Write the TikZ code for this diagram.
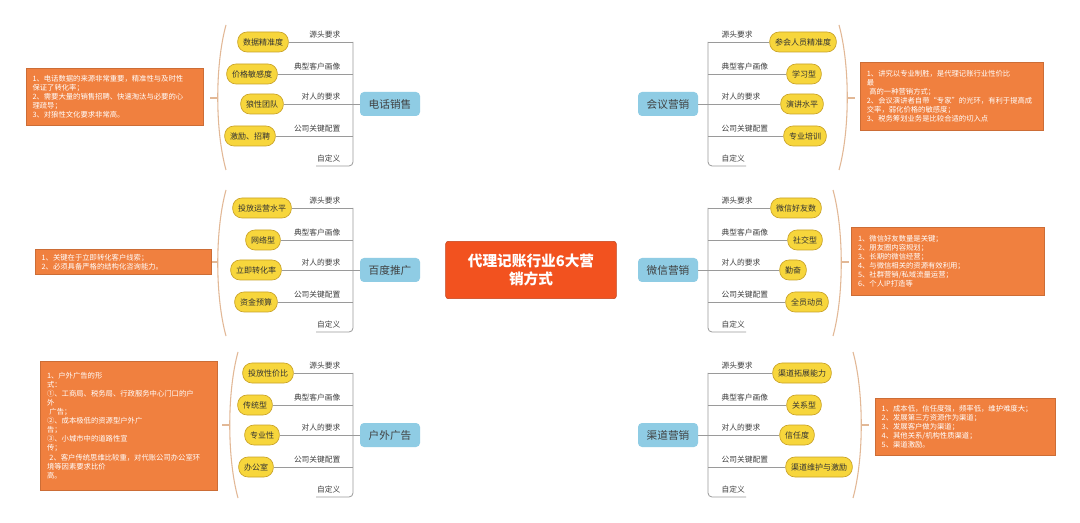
\documentclass[tikz,border=0pt]{standalone}
\usepackage{fontspec}
\setmainfont{Noto Sans CJK SC}
\usetikzlibrary{backgrounds}
\definecolor{cred}{HTML}{F2521F}
\definecolor{cblue}{HTML}{8FCCE4}
\definecolor{cyel}{HTML}{F7D63C}
\definecolor{cyelb}{HTML}{C9A227}
\definecolor{corg}{HTML}{F0803F}
\definecolor{cln}{HTML}{9A9A9A}
\definecolor{cbrc}{HTML}{E2B896}
\tikzset{
 ln/.style={draw=cln,line width=0.6pt},
 ctr/.style={fill=cred,draw=cred!80!black,rounded corners=2pt,text=white,font=\fontsize{11}{14}\selectfont\bfseries,minimum width=128pt,minimum height=43pt,align=center},
 bnode/.style={fill=cblue,rounded corners=3pt,text=black!75,font=\fontsize{8}{10}\selectfont,minimum width=45pt,minimum height=18pt},
 ynode/.style={fill=cyel,draw=cyelb,line width=0.5pt,rounded corners=7pt,font=\fontsize{6}{7}\selectfont,minimum height=15pt,inner xsep=4pt,text=black!80},
 lbl/.style={font=\fontsize{5.8}{7}\selectfont,text=black!75,inner sep=1pt},
 obox/.style={fill=corg,draw=corg!85!black,line width=0.4pt,text=white,font=\fontsize{5.5}{6.8}\selectfont,align=left,inner xsep=5pt,inner ysep=3pt},
 brc/.style={draw=cbrc,line width=0.8pt}
}
\newcommand\LB[4]{%
 \node[bnode] (#1) at (390,#2) {#3};
 \draw[ln] (#1.west) -- (353,#2);
 \foreach \dy/\yx/\yt [count=\i] in {#4}{
   \node[ynode] (#1y\i) at (\yx,{#2+\dy}) {\yt};
   \draw[ln] (#1y\i.east) -- (353,{#2+\dy});
 }
 \draw[ln,rounded corners=3pt] (353,{#2-62}) -- (353,{#2+62}) -- (316,{#2+62});
 \foreach \dy/\lt [count=\i] in {-62/源头要求,-30/典型客户画像,0/对人的要求,32/公司关键配置,62/自定义}{
   \node[lbl,anchor=south east] (#1l\i) at (342,{#2+\dy-2}) {\lt};
 }
}
\newcommand\RB[4]{%
 \node[bnode] (#1) at (668,#2) {#3};
 \draw[ln] (#1.east) -- (708,#2);
 \foreach \dy/\yx/\yt [count=\i] in {#4}{
   \node[ynode] (#1y\i) at (\yx,{#2+\dy}) {\yt};
   \draw[ln] (#1y\i.west) -- (708,{#2+\dy});
 }
 \draw[ln,rounded corners=3pt] (708,{#2-62}) -- (708,{#2+62}) -- (746,{#2+62});
 \foreach \dy/\lt [count=\i] in {-62/源头要求,-30/典型客户画像,0/对人的要求,32/公司关键配置,62/自定义}{
   \node[lbl,anchor=south west] (#1l\i) at (720,{#2+\dy-2}) {\lt};
 }
}
\newcommand\LBR[4]{%
 \draw[brc] ({#1+7},#2) .. controls ({#1-4},{#2+40}) and ({#1-4},{#3-40}) .. ({#1+7},#3);
 \draw[brc] ({#1-1},#4) -- ({#1-9},#4);
}
\newcommand\RBR[4]{%
 \draw[brc] ({#1-7},#2) .. controls ({#1+4},{#2+40}) and ({#1+4},{#3-40}) .. ({#1-7},#3);
 \draw[brc] ({#1+1},#4) -- ({#1+9},#4);
}
\begin{document}
\begin{tikzpicture}[x=0.75pt,y=-0.75pt]
\useasboundingbox (0,0) rectangle (1080,523);
\fill[white] (0,0) rectangle (1080,523);
\node[ctr] (c) at (531,270) {代理记账行业6大营\\销方式};

\LB{tel}{104}{电话销售}{-62/263/数据精准度,-30/252/价格敏感度,0/262/狼性团队,32/250/激励、招聘}
\LB{bd}{270}{百度推广}{-62/262/投放运营水平,-30/263/网络型,0/256/立即转化率,32/256/资金预算}
\LB{hw}{435}{户外广告}{-62/268/投放性价比,-30/255/传统型,0/262/专业性,32/256/办公室}
\RB{hy}{104}{会议营销}{-62/803/参会人员精准度,-30/804/学习型,0/802/演讲水平,32/805/专业培训}
\RB{wx}{270}{微信营销}{-62/796/微信好友数,-30/805/社交型,0/793/勤奋,32/807/全员动员}
\RB{qd}{435}{渠道营销}{-62/802/渠道拓展能力,-30/804/关系型,0/797/信任度,32/819/渠道维护与激励}

\begin{pgfonlayer}{background}
\draw[ln,line width=0.8pt] (c.center) .. controls (480,160) and (470,104) .. (tel.east);
\draw[ln,line width=0.8pt] (c.center) -- (bd.east);
\draw[ln,line width=0.8pt] (c.center) .. controls (480,380) and (470,435) .. (hw.east);
\draw[ln,line width=0.8pt] (c.center) .. controls (582,160) and (592,104) .. (hy.west);
\draw[ln,line width=0.8pt] (c.center) -- (wx.west);
\draw[ln,line width=0.8pt] (c.center) .. controls (582,380) and (592,435) .. (qd.west);
\end{pgfonlayer}

\LBR{219}{25}{170}{98}
\LBR{219}{190}{336}{262}
\LBR{231}{352}{498}{425}
\RBR{846}{25}{170}{98}
\RBR{840}{190}{336}{262}
\RBR{860}{352}{498}{425}

\node[obox,text width=123pt,minimum height=43pt] (o1) at (114.5,97) {1、电话数据的来源非常重要，精准性与及时性\\保证了转化率；\\2、需要大量的销售招聘、快速淘汰与必要的心\\理疏导；\\3、对狼性文化要求非常高。};
\node[obox,text width=127pt,minimum height=51pt] (o2) at (951.5,96) {1、讲究以专业制胜，是代理记账行业性价比\\最\\\ 高的一种营销方式；\\2、会议演讲者自带“专家”的光环，有利于提高成\\交率，弱化价格的敏感度；\\3、税务筹划业务是比较合适的切入点};
\node[obox,text width=122pt,minimum height=19pt] (o3) at (123,262) {1、关键在于立即转化客户线索；\\2、必须具备严格的结构化咨询能力。};
\node[obox,text width=135pt,minimum height=51pt] (o4) at (948,261) {1、微信好友数量是关键；\\2、朋友圈内容规划；\\3、长期的微信经营；\\4、与微信相关的资源有效利用；\\5、社群营销/私域流量运营；\\6、个人IP打造等};
\node[obox,text width=123pt,minimum height=97pt] (o5) at (129,425.5) {1、户外广告的形\\式：\\①、工商局、税务局、行政服务中心门口的户\\外\\\ 广告；\\②、成本极低的资源型户外广\\告；\\③、小城市中的道路性宣\\传；\\\ 2、客户传统思维比较重，对代账公司办公室环\\境等因素要求比价\\高。};
\node[obox,text width=125pt,minimum height=43pt] (o6) at (965,426.5) {1、成本低，信任度强，频率低，维护难度大；\\2、发展第三方资源作为渠道；\\3、发展客户做为渠道；\\4、其他关系/机构性质渠道；\\5、渠道激励。};
\end{tikzpicture}
\end{document}
